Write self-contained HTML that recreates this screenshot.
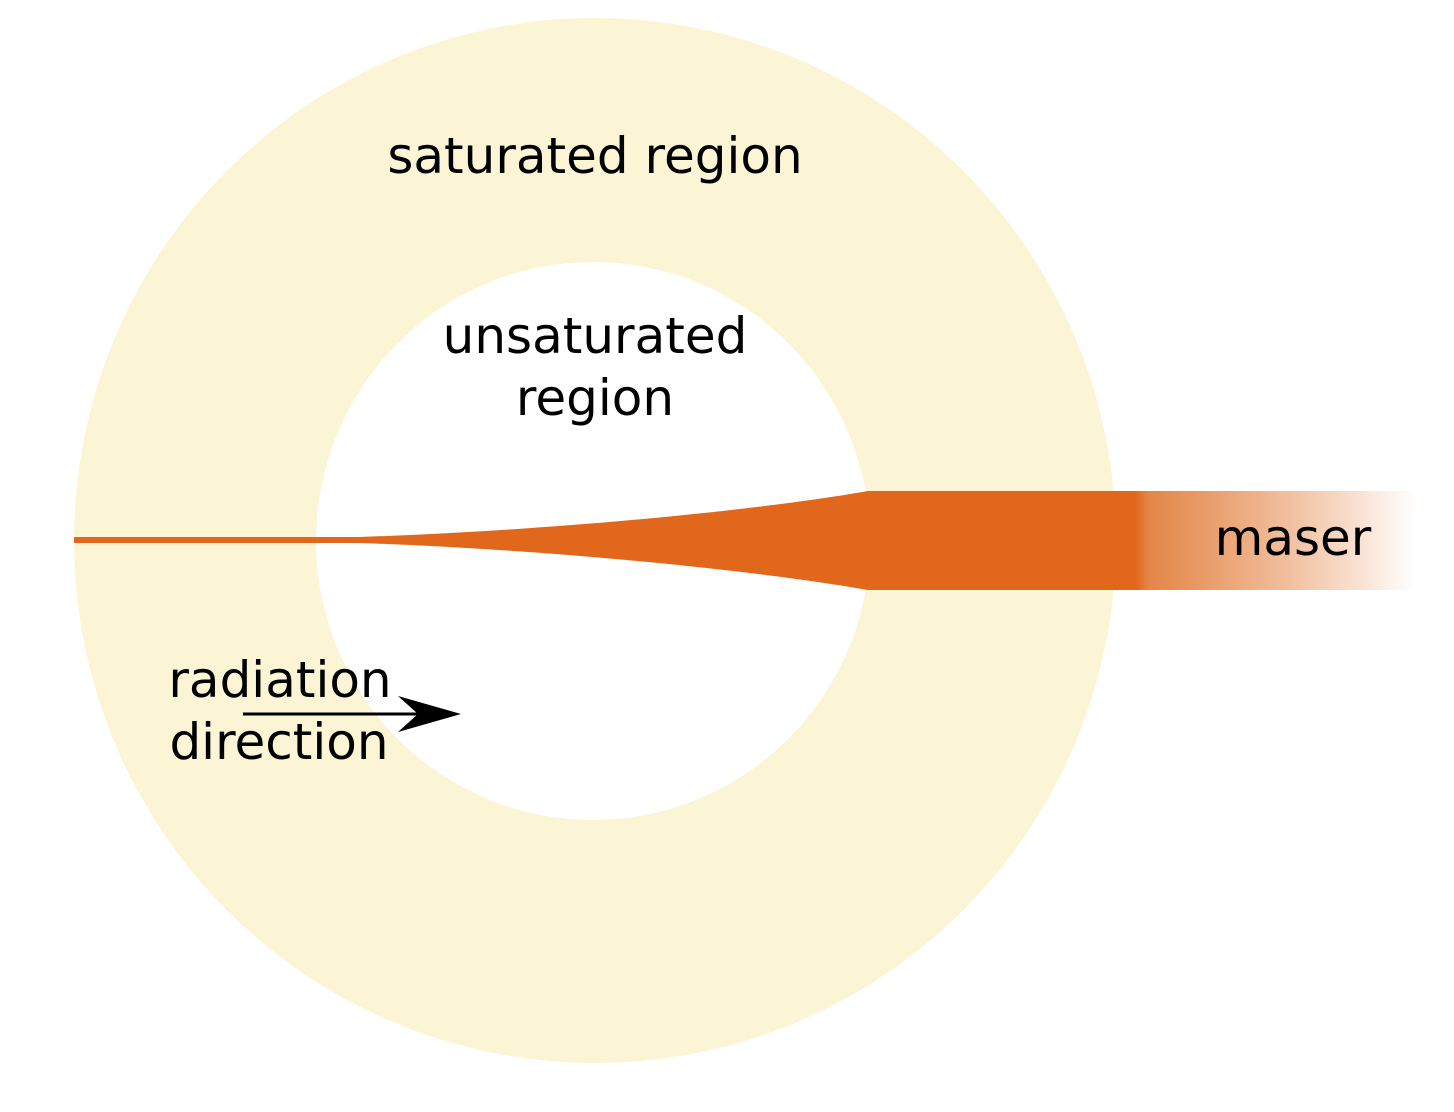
<!DOCTYPE html>
<html><head><style>html,body{margin:0;padding:0;background:#fff}svg{display:block}</style></head>
<body>
<svg width="1454" height="1112" viewBox="0 0 1454 1112" xmlns="http://www.w3.org/2000/svg">
<defs>
<linearGradient id="g" x1="1135" y1="0" x2="1415" y2="0" gradientUnits="userSpaceOnUse">
<stop offset="0" stop-color="#e0671b"/>
<stop offset="0.05" stop-color="#e2803f" stop-opacity="0.95"/>
<stop offset="1" stop-color="#e0671b" stop-opacity="0"/>
</linearGradient>
</defs>
<ellipse cx="595" cy="540.5" rx="521" ry="522.5" fill="#fcf5d5"/>
<ellipse cx="593" cy="541" rx="277" ry="279" fill="#fff"/>
<path d="M74,537 L360,537 C560,530 760,510 868,491 L1135,491 L1135,590 L868,590 C760,571 560,550 360,543 L74,543 Z" fill="#e0671b"/>
<rect x="1135" y="491" width="280" height="99" fill="url(#g)"/>
<g font-family="DejaVu Sans, Liberation Sans, sans-serif" font-size="50" fill="#000" text-anchor="middle">
<text x="595" y="173">saturated region</text>
<text x="595" y="353">unsaturated</text>
<text x="595" y="415">region</text>
<text x="1293" y="555">maser</text>
<text x="280" y="697">radiation</text>
<text x="279" y="759">direction</text>
</g>
<line x1="243" y1="714" x2="430" y2="714" stroke="#000" stroke-width="3"/>
<path d="M398,696 L461,714 L398,732 L418,714 Z" fill="#000"/>
</svg>
</body></html>
